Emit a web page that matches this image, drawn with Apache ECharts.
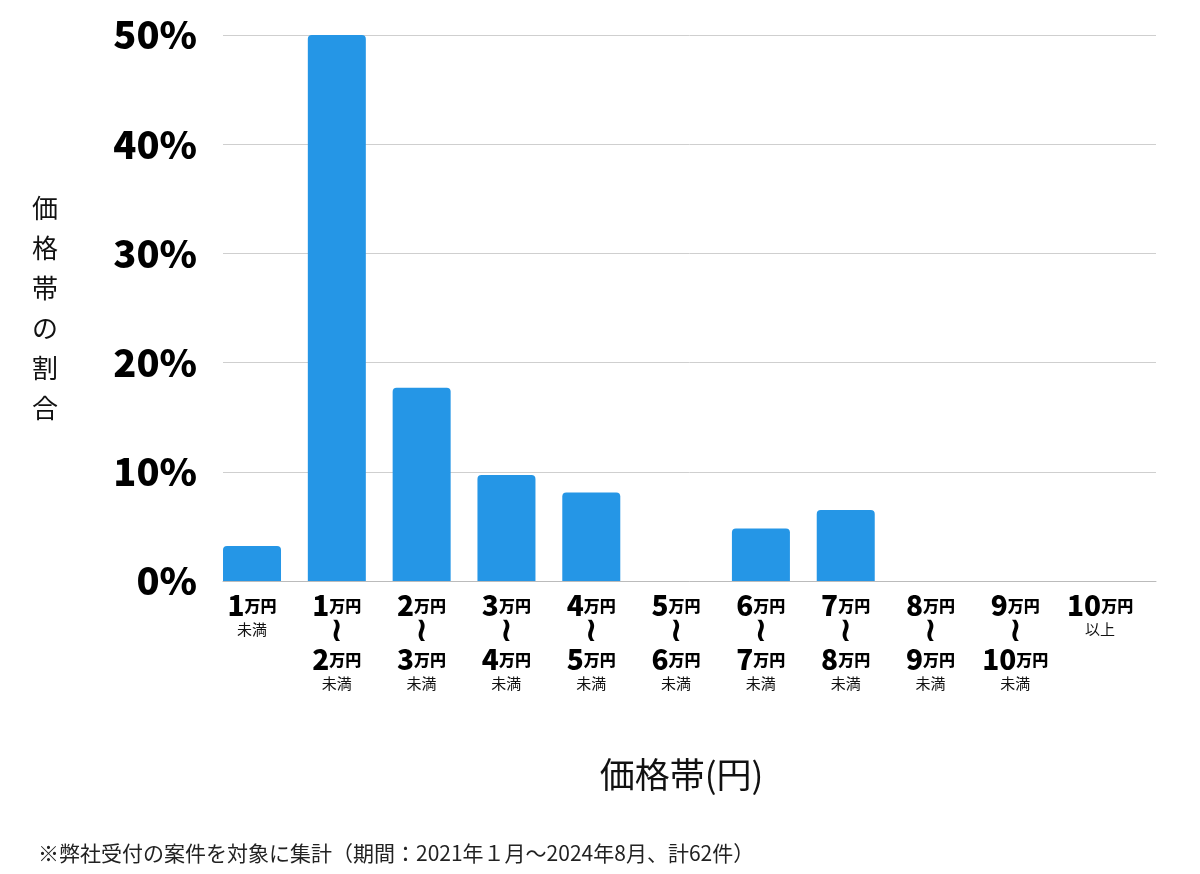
<!DOCTYPE html>
<html>
<head>
<meta charset="utf-8">
<script src="https://cdn.jsdelivr.net/npm/echarts@6/dist/echarts.min.js"></script>
<style>
  html, body { margin: 0; padding: 0; background: #fff; }
  #chart { width: 1200px; height: 874px; }
</style>
</head>
<body>
<div id="chart"></div>
<script>
// price bands (lower / upper bound in 万円, null = open end)
var bandFrom = [null, 1, 2, 3, 4, 5, 6, 7, 8, 9, 10];
var bandTo = [1, 2, 3, 4, 5, 6, 7, 8, 9, 10, null];
var categories = ['1万円未満', '1万円〜2万円未満', '2万円〜3万円未満', '3万円〜4万円未満', '4万円〜5万円未満',
  '5万円〜6万円未満', '6万円〜7万円未満', '7万円〜8万円未満', '8万円〜9万円未満', '9万円〜10万円未満', '10万円以上'];
// share of cases (%)
var shares = [3.2, 50.0, 17.7, 9.7, 8.1, 0, 4.8, 6.5, 0, 0, 0];
var yTicks = { min: 0, max: 50, interval: 10 };
var footnote = '※弊社受付の案件を対象に集計（期間：2021年１月〜2024年8月、計62件）';

var FONT = '"Noto Sans CJK JP", "Noto Sans", sans-serif';

function bandLabel(value, idx) {
  var from = bandFrom[idx], to = bandTo[idx];
  if (from === null) return '{num|' + to + '}{unit|万円}\n{sub|未満}';
  if (to === null) return '{num|' + from + '}{unit|万円}\n{sub|以上}';
  return '{num|' + from + '}{unit|万円}\n{wave|≀}\n{num|' + to + '}{unit|万円}\n{sub|未満}';
}

var chart = echarts.init(document.getElementById('chart'), null, { renderer: 'canvas' });

chart.setOption({
  animation: false,
  textStyle: { fontFamily: FONT },
  title: {
    text: footnote,
    left: 33,
    top: 838,
    textStyle: { fontFamily: FONT, fontSize: 21, fontWeight: 'normal', color: '#222' }
  },
  grid: { left: 223, right: 44, top: 35, bottom: 293, containLabel: false },
  xAxis: {
    type: 'category',
    data: categories,
    name: '価格帯(円)',
    nameLocation: 'middle',
    nameGap: 176,
    nameTextStyle: { fontFamily: FONT, fontSize: 35, color: '#111', verticalAlign: 'top', padding: [0, 16, 0, 0] },
    axisLine: { lineStyle: { color: '#bbb', width: 1 } },
    axisTick: { show: false },
    axisLabel: {
      interval: 0,
      margin: 11,
      padding: [0, 27, 0, 0],
      color: '#111',
      formatter: bandLabel,
      rich: {
        num: { fontFamily: FONT, fontSize: 28, fontWeight: 900, lineHeight: 27, align: 'center', color: '#000' },
        unit: { fontFamily: FONT, fontSize: 16, fontWeight: 900, lineHeight: 27, align: 'center', color: '#000' },
        wave: { fontFamily: '"DejaVu Sans", sans-serif', fontSize: 34, fontWeight: 'bold', lineHeight: 27, align: 'center', color: '#000' },
        sub: { fontFamily: FONT, fontSize: 15, lineHeight: 20, align: 'center', color: '#111' }
      }
    }
  },
  yAxis: {
    type: 'value',
    min: yTicks.min,
    max: yTicks.max,
    interval: yTicks.interval,
    name: '価\n格\n帯\nの\n割\n合',
    nameLocation: 'middle',
    nameRotate: 0,
    nameGap: 165,
    nameTextStyle: { fontFamily: FONT, fontSize: 26, lineHeight: 40, color: '#111' },
    axisLine: { show: false },
    axisTick: { show: false },
    splitLine: { lineStyle: { color: '#cfcfcf', width: 1 } },
    axisLabel: {
      margin: 26,
      formatter: '{value}%',
      fontFamily: FONT,
      fontSize: 38,
      fontWeight: 900,
      color: '#000'
    }
  },
  series: [
    {
      name: '割合',
      type: 'bar',
      data: shares,
      barWidth: 58,
      barGap: '0%',
      itemStyle: { color: '#2596e6', borderRadius: [4, 4, 0, 0] }
    },
    {
      // empty companion series keeps each bar on the left side of its slot
      name: 'spacer',
      type: 'bar',
      data: [],
      barWidth: 26.8,
      silent: true
    }
  ]
});
</script>
</body>
</html>
